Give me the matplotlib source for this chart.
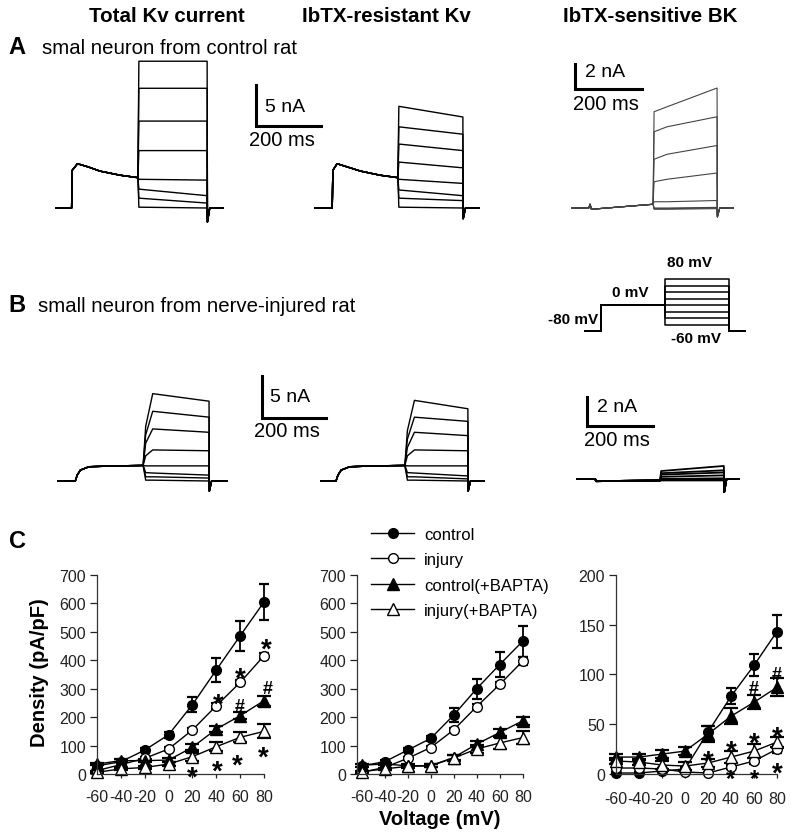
import matplotlib
matplotlib.use("Agg")
import matplotlib.pyplot as plt
from matplotlib.lines import Line2D
from matplotlib.transforms import offset_copy

plt.rcParams['font.family'] = ['Liberation Sans', 'DejaVu Sans']
plt.rcParams['axes.unicode_minus'] = False

W, H = 795, 837

# ---------------- current traces (ms, nA) ----------------
# A: control neuron
a1_pre_t = [0, 48, 50, 66, 100, 135, 197, 252]
a1_pre_i = [0, 0, 4.6, 5.4, 5.0, 4.5, 4.0, 3.7]
a1_on = [17.9, 14.6, 10.6, 7.0, 3.5, 2.3, 1.2, 0.1]
a1_off = [17.9, 14.6, 10.6, 7.0, 3.4, 1.5, 0.6, 0.0]

a2_pre_t = [0, 53, 55, 68, 100, 140, 200, 255]
a2_pre_i = [0, 0, 4.6, 5.4, 5.0, 4.5, 4.0, 3.7]
a2_on = [12.4, 9.9, 7.8, 5.6, 3.5, 2.2, 1.2, 0.1]
a2_off = [11.1, 9.0, 7.0, 4.9, 3.0, 1.5, 0.9, 0.0]

a3_pre_t = [0, 50, 54, 58, 242]
a3_pre_i = [0, 0, 0.3, -0.1, 0.3]
a3_on = [7.7, 6.1, 3.9, 2.1, 0.5, 0.0, -0.05, -0.1]
a3_mid = [8.1, 6.5, 4.3, 2.3, 0.5, 0.0, -0.05, -0.1]
a3_off = [9.6, 7.3, 5.0, 2.8, 0.6, 0.05, 0.0, -0.05]

# B: nerve-injured neuron
b1_pre_t = [0, 54, 60, 70, 97, 180, 266]
b1_pre_i = [0, 0, 0.7, 1.3, 1.7, 1.8, 1.85]
b1_rise = [6.5, 5.5, 4.5, 3.0, 1.8, 1.0, 0.5, 0.1]
b1_on = [10.4, 8.3, 6.2, 3.7, 1.8, 0.95, 0.5, 0.1]
b1_off = [9.5, 7.6, 5.8, 3.6, 1.8, 0.7, 0.35, 0.0]

b2_pre_t = [0, 47, 53, 63, 90, 170, 262]
b2_pre_i = [0, 0, 0.7, 1.3, 1.7, 1.8, 1.85]
b2_rise = [6.0, 5.0, 4.0, 3.0, 1.8, 1.0, 0.5, 0.1]
b2_on = [9.6, 7.6, 5.8, 3.7, 1.8, 0.95, 0.5, 0.1]
b2_off = [8.6, 7.1, 5.4, 3.6, 1.8, 0.6, 0.25, 0.0]

b3_pre_t = [0, 55, 58, 252]
b3_pre_i = [0, 0, -0.15, -0.1]
b3_on = [0.55, 0.4, 0.3, 0.15, 0.0, 0.0, -0.05, -0.1]
b3_off = [0.9, 0.6, 0.45, 0.25, 0.05, 0.0, -0.05, -0.1]

# voltage protocol (mV)
step_mv = [-60, -40, -20, 0, 20, 40, 60, 80]
hold_mv = -80
pre_mv = 0

# ---------------- I-V data (pA/pF) ----------------
volt = [-60, -40, -20, 0, 20, 40, 60, 80]

tot_ctrl = [29, 43, 84, 138, 244, 366, 486, 605]
tot_ctrl_e = [5, 5, 8, 10, 27, 41, 53, 64]
tot_inj = [12, 33, 55, 88, 155, 240, 322, 416]
tot_inj_e = [3, 4, 5, 6, 8, 10, 10, 10]
tot_ctrlB = [35, 47, 47, 49, 94, 158, 205, 258]
tot_ctrlB_e = [5, 5, 5, 8, 10, 10, 12, 18]
tot_injB = [6, 18, 23, 35, 61, 96, 129, 150]
tot_injB_e = [4, 4, 6, 8, 15, 15, 17, 25]

res_ctrl = [29, 43, 84, 125, 207, 300, 385, 467]
res_ctrl_e = [5, 5, 6, 10, 25, 35, 45, 55]
res_inj = [6, 23, 55, 93, 155, 237, 315, 397]
res_inj_e = [3, 3, 5, 6, 8, 10, 10, 15]
res_ctrlB = [31, 35, 29, 29, 58, 105, 146, 187]
res_ctrlB_e = [5, 5, 5, 5, 8, 10, 12, 15]
res_injB = [8, 18, 27, 29, 56, 88, 109, 128]
res_injB_e = [4, 4, 5, 5, 10, 15, 20, 22]

bk_ctrl = [1, 1, 3, 5, 42, 78, 109, 143]
bk_ctrl_e = [1, 1, 1, 2, 6, 8, 11, 17]
bk_inj = [6, 6, 5, 2, 1, 7, 13, 25]
bk_inj_e = [1, 1, 1, 1, 1, 2, 3, 4]
bk_ctrlB = [17, 17, 20, 23, 40, 58, 72, 87]
bk_ctrlB_e = [3, 3, 4, 4, 8, 8, 7, 9]
bk_injB = [13, 12, 9, 8, 11, 17, 23, 32]
bk_injB_e = [3, 3, 4, 4, 4, 6, 7, 5]

# significance marks (voltage, density)
tot_star = [(20, 21), (42, 277), (41, 42), (60, 369), (58, 63), (82, 469), (79, 88)]
tot_hash = [(60, 246), (83, 308)]
bk_star = [(20, 22), (40, 32), (40, 3), (60, 40), (60, 3), (80, 46), (80, 10)]
bk_hash = [(60, 88), (80, 102)]

labels = ['control', 'injury', 'control(+BAPTA)', 'injury(+BAPTA)']

fig = plt.figure(figsize=(W / 100, H / 100), dpi=100)


def fx(x):
    return x / W


def fy(y):
    return 1 - y / H


def trace_axes(x0, y0, ms_px, na_px):
    # invisible full-figure axes: t=0 at pixel x0, I=0 at pixel y0
    ax = fig.add_axes([0, 0, 1, 1])
    ax.set_xlim(-x0 / ms_px, (W - x0) / ms_px)
    ax.set_ylim((y0 - H) / na_px, y0 / na_px)
    ax.axis('off')
    return ax


def draw_sweeps(ax, pre_t, pre_i, t_on, t_off, t_end, on, off, tail,
                color='k', lw=1.0, rise=None, mid=None, t_mid=None):
    for k in range(len(on)):
        t = list(pre_t)
        i = list(pre_i)
        if rise is not None:
            t += [t_on + 8, t_on + 30]
            i += [rise[k], on[k]]
        else:
            t.append(t_on + 3)
            i.append(on[k])
        if mid is not None:
            t.append(t_mid)
            i.append(mid[k])
        t += [t_off, t_off + 1, t_off + 8, t_end]
        i += [off[k], tail, 0, 0]
        ax.plot(t, i, color=color, lw=lw, solid_joinstyle='round')


def scale_bar(ax, t0, i0, dt, di, na_txt, na_xy, ms_xy):
    ax.plot([t0, t0, t0 + dt], [i0 + di, i0, i0], color='k', lw=2.2,
            solid_joinstyle='miter', clip_on=False)
    ax.text(na_xy[0], na_xy[1], na_txt, fontsize=14, ha='left', va='center')
    ax.text(ms_xy[0], ms_xy[1], '200 ms', fontsize=14.5, ha='center', va='center')


# ---- row A ----
ax = trace_axes(56, 209, 0.325, 8.2)
draw_sweeps(ax, a1_pre_t, a1_pre_i, 252, 465, 514, a1_on, a1_off, -1.7)
scale_bar(ax, 615, 10, 200, 5, '5 nA', (643, 12.4), (694, 8.3))

ax = trace_axes(315, 209, 0.325, 8.2)
draw_sweeps(ax, a2_pre_t, a2_pre_i, 255, 455, 505, a2_on, a2_off, -1.3)

ax = trace_axes(572, 209, 0.335, 12.5)
draw_sweeps(ax, a3_pre_t, a3_pre_i, 242, 433, 481, a3_on, a3_off, -0.7,
            color='#444444', lw=0.8, mid=a3_mid, t_mid=284)
scale_bar(ax, 9, 9.5, 200, 2, '2 nA', (39, 10.9), (101, 8.4))

# ---- row B ----
ax = trace_axes(58, 482, 0.32, 8.4)
draw_sweeps(ax, b1_pre_t, b1_pre_i, 266, 472, 528, b1_on, b1_off, -1.2, rise=b1_rise)
scale_bar(ax, 637, 7.5, 200, 5, '5 nA', (662, 10.1), (716, 6.0))

ax = trace_axes(321, 482, 0.32, 8.4)
draw_sweeps(ax, b2_pre_t, b2_pre_i, 262, 459, 509, b2_on, b2_off, -1.2, rise=b2_rise)

ax = trace_axes(577, 480, 0.33, 14.5)
draw_sweeps(ax, b3_pre_t, b3_pre_i, 252, 445, 491, b3_on, b3_off, -0.9, lw=1.3)
scale_bar(ax, 30, 3.66, 200, 2, '2 nA', (61, 5.0), (121, 2.7))

# ---- voltage protocol ----
ax = trace_axes(585, 306, 0.32, 0.325)
for v in step_mv:
    ax.plot([0, 50, 50, 250, 250, 450, 450, 500],
            [hold_mv, hold_mv, pre_mv, pre_mv, v, v, hold_mv, hold_mv],
            color='k', lw=1.1)
pkw = dict(fontsize=11, fontweight='bold', ha='center', va='center')
ax.text(328, 132, '80 mV', **pkw)
ax.text(141, 40, '0 mV', **pkw)
ax.text(-37, -43, '-80 mV', **pkw)
ax.text(347, -101, '-60 mV', **pkw)

# ---- headings ----
for x, s in [(167, 'Total Kv current'), (386, 'IbTX-resistant Kv'), (650, 'IbTX-sensitive BK')]:
    fig.text(fx(x), fy(17), s, fontsize=14.8, fontweight='bold', ha='center', va='center')
fig.text(fx(8), fy(48), 'A', fontsize=17, fontweight='bold', ha='left', va='center')
fig.text(fx(42), fy(48), 'smal neuron from control rat', fontsize=14.7, ha='left', va='center')
fig.text(fx(8), fy(306), 'B', fontsize=17, fontweight='bold', ha='left', va='center')
fig.text(fx(38), fy(306), 'small neuron from nerve-injured rat', fontsize=14.7,
         ha='left', va='center')
fig.text(fx(9), fy(542), 'C', fontsize=17, fontweight='bold', ha='left', va='center')

# ---- panel C ----
styles = [('o', 'k', 7, 3.5), ('o', 'white', 7, 3.5), ('^', 'k', 8.5, 5), ('^', 'white', 8.5, 5)]
STAR_FS = 20
HASH_FS = 13


def iv_panel(left, right, x_lo, y_top, ymax, yticks, series, stars=(), hashes=(), xpad=8):
    ax = fig.add_axes([fx(left), fy(775), fx(right) - fx(left), fy(y_top) - fy(775)])
    ax.set_xlim(x_lo, 80)
    ax.set_ylim(0, ymax)
    for (y, e), (mk, mfc, ms, cap) in zip(series, styles):
        cont = ax.errorbar(volt, y, yerr=e, color='k', marker=mk, mfc=mfc, mec='k',
                           ms=ms, lw=1.0, elinewidth=1.3, capsize=cap, capthick=1.6)
        for art in cont.get_children():
            art.set_clip_on(False)
    for s in ('top', 'right'):
        ax.spines[s].set_visible(False)
    for s in ('left', 'bottom'):
        ax.spines[s].set_color('#333333')
        ax.spines[s].set_linewidth(0.9)
    ax.set_xticks(volt)
    ax.set_yticks(yticks)
    ax.tick_params(axis='both', labelsize=11.5, colors='#222222', width=0.9)
    ax.tick_params(axis='x', length=3, pad=xpad)
    ax.tick_params(axis='y', length=5, pad=3)
    for x, y in stars:
        # stars sitting on the axis are a touch smaller to clear the tick labels
        fs = STAR_FS if y > 5 else STAR_FS - 3
        st = offset_copy(ax.transData, fig=fig, x=0, y=-0.58 * fs, units='points')
        ax.text(x, y, '*', fontsize=fs, fontweight='bold', ha='center',
                va='baseline', transform=st)
    ht = offset_copy(ax.transData, fig=fig, x=0, y=-0.36 * HASH_FS, units='points')
    for x, y in hashes:
        ax.text(x, y, '#', fontsize=HASH_FS, fontweight='bold', ha='center',
                va='baseline', transform=ht)
    return ax


iv_panel(97, 264, -60, 576, 700, range(0, 701, 100),
         [(tot_ctrl, tot_ctrl_e), (tot_inj, tot_inj_e),
          (tot_ctrlB, tot_ctrlB_e), (tot_injB, tot_injB_e)],
         tot_star, tot_hash)
iv_panel(357, 522.7, -64, 576, 700, range(0, 701, 100),
         [(res_ctrl, res_ctrl_e), (res_inj, res_inj_e),
          (res_ctrlB, res_ctrlB_e), (res_injB, res_injB_e)])
iv_panel(616, 777, -60, 575.7, 200, range(0, 201, 50),
         [(bk_ctrl, bk_ctrl_e), (bk_inj, bk_inj_e),
          (bk_ctrlB, bk_ctrlB_e), (bk_injB, bk_injB_e)],
         bk_star, bk_hash, xpad=9.5)

fig.text(fx(40), fy(673), 'Density (pA/pF)', fontsize=14.5, fontweight='bold',
         rotation=90, ha='center', va='center')
fig.text(fx(440), fy(820), 'Voltage (mV)', fontsize=14.5, fontweight='bold',
         ha='center', va='center')

handles = [Line2D([], [], color='k', lw=1.0, marker=mk, mfc=mfc, mec='k', ms=ms)
           for mk, mfc, ms, cap in styles]
fig.legend(handles, labels, loc='upper left', bbox_to_anchor=(fx(371), fy(528)),
           frameon=False, fontsize=12, handlelength=2.6, handletextpad=0.6,
           labelspacing=0.62, borderpad=0, borderaxespad=0)

fig.savefig('out.png', dpi=100)
